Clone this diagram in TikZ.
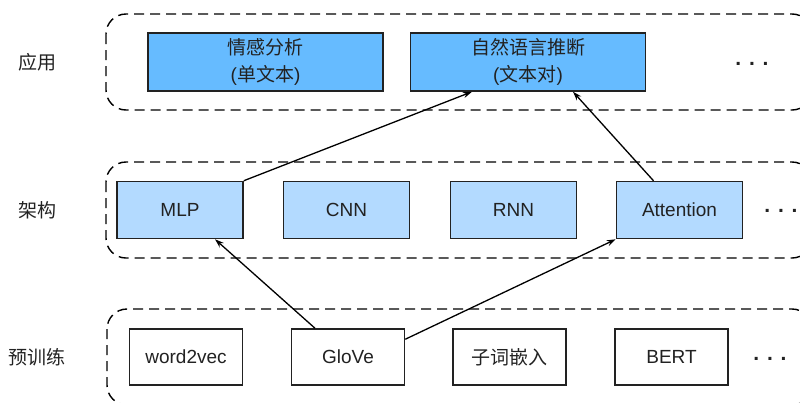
\documentclass[tikz,border=0pt]{standalone}
\usepackage{fontspec}
\setmainfont{Liberation Sans}
\newfontfamily\cjk{Noto Sans CJK SC}
\usetikzlibrary{arrows.meta}
\definecolor{appblue}{RGB}{102,187,255}
\definecolor{archblue}{RGB}{179,218,255}
\definecolor{boxline}{RGB}{34,34,34}

\begin{document}
\begin{tikzpicture}[x=1pt, y=-1pt,
		every node/.style={font=\fontsize{19}{27}\selectfont, text=boxline},
		layer/.style={draw=black, dash pattern=on 10pt off 6pt, line width=1.4pt, rounded corners=20pt},
		appbox/.style={draw=boxline, line width=1.5pt, fill=appblue, minimum width=235pt, minimum height=58pt, align=center},
		archbox/.style={draw=boxline, line width=1.5pt, fill=archblue, minimum width=126pt, minimum height=57pt},
		prebox/.style={draw=boxline, line width=1.5pt, fill=white, minimum width=113pt, minimum height=56pt},
		moredots/.style={font=\fontsize{21}{27}\bfseries},
		link/.style={-{Stealth[length=9pt,width=6pt]}, line width=1.3pt}]
	\useasboundingbox (0,0) rectangle (800,402);
	
	% layers
	\draw[layer] (106,14) rectangle (812,110);
	\draw[layer] (106,162) rectangle (812,258);
	\draw[layer] (107,309) rectangle (812,405);
	
	\node (lblapp) at (37,62) {\cjk 应用};
	\node (lblarch) at (37,210) {\cjk 架构};
	\node (lblpre) at (37,357) {\cjk 预训练};
	
	% applications
	\node[appbox] (sa) at (265.5,62) {{\cjk 情感分析}\\({\cjk 单文本})};
	\node[appbox] (nli) at (528,62) {{\cjk 自然语言推断}\\({\cjk 文本对})};
	\node[moredots] (appdots) at (752,64) {. . .};
	
	% architectures
	\node[archbox] (mlp) at (180,210) {MLP};
	\node[archbox] (cnn) at (346.5,210) {CNN};
	\node[archbox] (rnn) at (513.5,210) {RNN};
	\node[archbox] (attn) at (679.5,210) {Attention};
	\node[moredots] (archdots) at (781,211) {. . .};
	
	% pretraining
	\node[prebox] (w2v) at (186,357) {word2vec};
	\node[prebox] (glove) at (348,357) {GloVe};
	\node[prebox] (subword) at (509.5,357) {\cjk 子词嵌入};
	\node[prebox] (bert) at (671.5,357) {BERT};
	\node[moredots] (predots) at (770,359) {. . .};
	
	\draw[link] (mlp.north east) -- ([xshift=-56pt]nli.south);
	\draw[link] ([xshift=-26pt]attn.north) -- ([xshift=45pt]nli.south);
	\draw[link] ([xshift=-33pt]glove.north) -- ([xshift=35pt]mlp.south);
	\draw[link] ([yshift=-11pt]glove.north east) -- (attn.south west);
\end{tikzpicture}
\end{document}
